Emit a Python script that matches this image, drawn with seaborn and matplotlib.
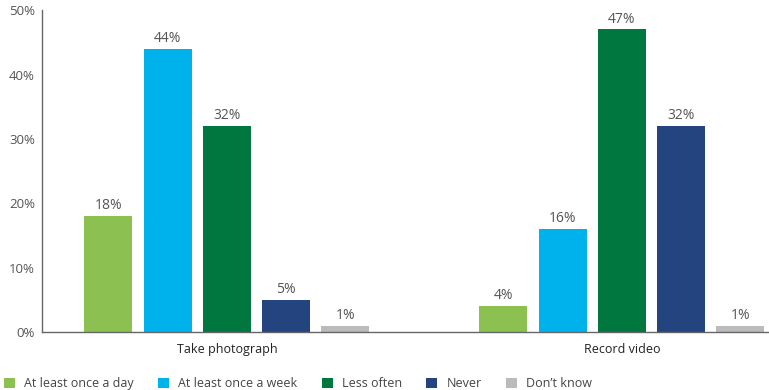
import matplotlib
matplotlib.use("Agg")
import matplotlib.pyplot as plt
from matplotlib.patches import Patch
import seaborn as sns
import pandas as pd

activities = ["Take photograph", "Record video"]
frequencies = ["At least once a day", "At least once a week", "Less often", "Never", "Don\u2019t know"]
take_photograph = [18, 44, 32, 5, 1]
record_video = [4, 16, 47, 32, 1]
colors = ["#8cc152", "#00b2ec", "#00773f", "#23447f", "#b9bbbd"]
y_ticks = [0, 10, 20, 30, 40, 50]

rows = []
for act, vals in zip(activities, [take_photograph, record_video]):
    for freq, v in zip(frequencies, vals):
        rows.append({"activity": act, "frequency": freq, "value": v})
df = pd.DataFrame(rows)

sns.set_theme(style="white")
plt.rcParams["font.family"] = ["Open Sans", "DejaVu Sans"]

fig = plt.figure(figsize=(7.69, 3.90), dpi=100)
ax = fig.add_axes([0.0546, 0.1487, 0.944, 0.8253])

sns.barplot(data=df, x="activity", y="value", hue="frequency",
            order=activities, hue_order=frequencies,
            palette=colors, width=0.75, gap=0.19, saturation=1,
            linewidth=0, legend=False, ax=ax)

for cont in ax.containers:
    ax.bar_label(cont, labels=[f"{v:.0f}%" for v in cont.datavalues],
                 padding=2, fontsize=10, color="#555555")

ax.set_ylim(0, 50)
ax.set_xlim(-0.468, 1.37)
ax.set_yticks(y_ticks)
ax.set_yticklabels([f"{t}%" for t in y_ticks], fontsize=9.5, color="#555555")
ax.tick_params(axis="x", labelsize=9, colors="#222222", pad=8, length=0)
ax.tick_params(axis="y", length=0, pad=5)
ax.set_xlabel("")
ax.set_ylabel("")
for s in ["top", "right"]:
    ax.spines[s].set_visible(False)
for s in ["left", "bottom"]:
    ax.spines[s].set_color("#666666")
    ax.spines[s].set_linewidth(1)

handles = [Patch(facecolor=c, edgecolor="none") for c in colors]
fig.legend(handles, frequencies, loc="lower left", bbox_to_anchor=(-0.009, -0.03),
           ncol=5, frameon=False, fontsize=9, handlelength=0.85, handleheight=0.85,
           handletextpad=0.75, columnspacing=1.95, labelcolor="#444444")

fig.savefig("out.png", dpi=100)
